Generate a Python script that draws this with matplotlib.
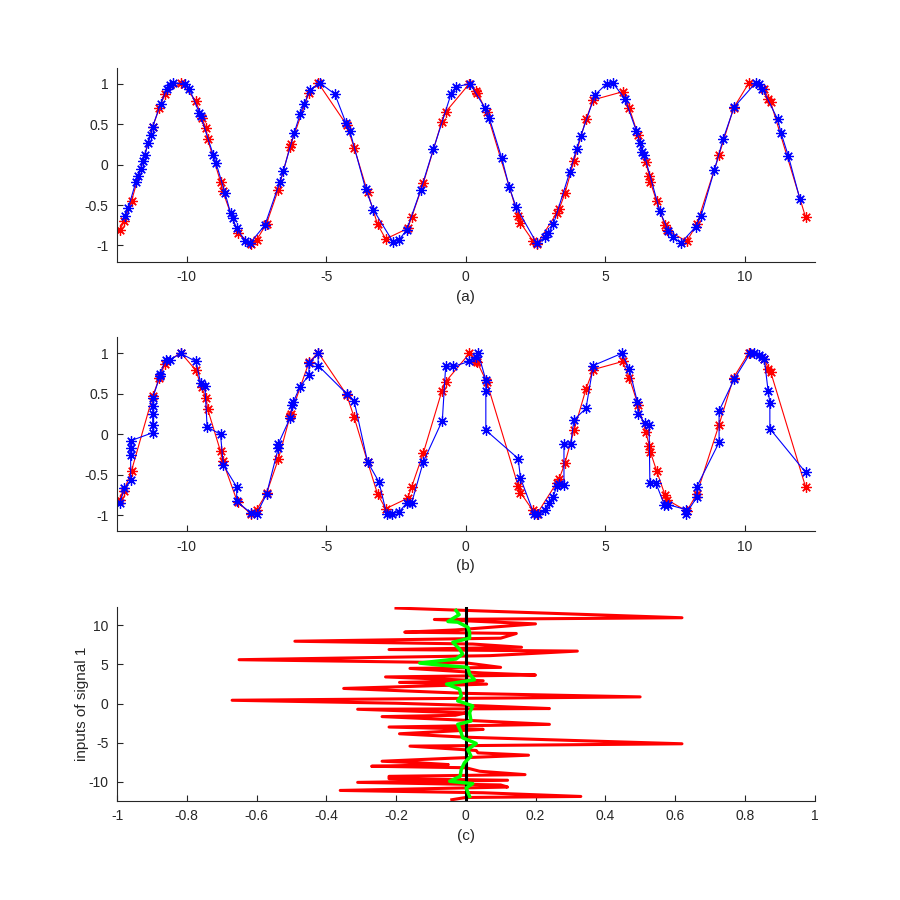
import matplotlib
matplotlib.use("Agg")
import matplotlib.pyplot as plt

plt.rcParams['font.family'] = ['Liberation Sans', 'DejaVu Sans']
plt.rcParams['axes.unicode_minus'] = False

# ---------------- data ----------------
# target signal samples (red), shared by panels (a) and (b)
red_x = [-12.39, -12.25, -11.98, -11.22, -10.98, -10.78, -10.22, -9.67, -9.47, -9.31,
         -9.25, -8.79, -8.71, -8.18, -7.71, -7.49, -7.14, -6.72, -6.30, -6.27,
         -5.62, -5.29, -4.27, -4.00, -3.52, -3.16, -2.87, -2.08, -1.94, -1.52,
         -0.86, -0.72, 0.13, 0.37, 0.41, 0.75, 1.88, 1.96, 2.40, 2.56,
         3.26, 3.35, 3.56, 3.88, 4.31, 4.57, 5.62, 5.86, 6.18, 6.45,
         6.58, 6.62, 6.84, 7.14, 7.22, 7.92, 8.28, 9.08, 9.60, 10.15,
         10.70, 10.85, 10.93, 12.18]
red_y = [-0.81, -0.70, -0.45, 0.47, 0.70, 0.87, 1.01, 0.79, 0.58, 0.45,
         0.31, -0.21, -0.33, -0.84, -0.98, -0.93, -0.73, -0.31, 0.22, 0.25,
         0.89, 1.01, 0.49, 0.21, -0.34, -0.74, -0.92, -0.79, -0.65, -0.23,
         0.53, 0.65, 1.00, 0.91, 0.89, 0.65, -0.64, -0.72, -0.94, -0.98,
         -0.60, -0.55, -0.35, 0.05, 0.56, 0.80, 0.90, 0.70, 0.36, 0.03,
         -0.14, -0.22, -0.45, -0.75, -0.81, -0.95, -0.74, 0.12, 0.70, 1.01,
         0.93, 0.81, 0.77, -0.65]

# panel (a) model output (blue)
blue_a_x = [-12.21, -12.10, -11.82, -11.74, -11.65, -11.58, -11.50, -11.38, -11.29, -11.22,
            -10.94, -10.72, -10.60, -10.48, -10.06, -9.91, -9.55, -9.50, -9.05, -8.95,
            -8.63, -8.43, -8.36, -8.21, -7.91, -7.73, -7.20, -6.66, -6.54, -6.15,
            -5.94, -5.79, -5.58, -5.23, -4.69, -4.30, -4.15, -3.59, -3.31, -2.60,
            -2.39, -2.12, -1.61, -1.16, -0.53, -0.36, 0.15, 0.69, 0.84, 1.29,
            1.56, 1.80, 2.54, 2.84, 2.96, 3.14, 3.73, 3.97, 4.12, 4.63,
            5.05, 5.27, 5.71, 6.12, 6.24, 6.33, 6.40, 6.96, 7.26, 7.44,
            7.71, 8.24, 8.43, 8.91, 9.23, 9.62, 10.39, 10.51, 10.63, 11.18,
            11.30, 11.56, 11.98]
blue_a_y = [-0.64, -0.54, -0.21, -0.14, -0.06, 0.04, 0.12, 0.27, 0.37, 0.47,
            0.75, 0.93, 0.98, 1.01, 1.00, 0.94, 0.64, 0.60, 0.12, 0.02,
            -0.35, -0.60, -0.66, -0.79, -0.94, -0.97, -0.75, -0.21, -0.08, 0.39,
            0.62, 0.75, 0.92, 1.01, 0.87, 0.52, 0.41, -0.30, -0.56, -0.96,
            -0.93, -0.81, -0.31, 0.19, 0.87, 0.96, 1.00, 0.70, 0.58, 0.08,
            -0.28, -0.52, -0.97, -0.90, -0.85, -0.74, -0.09, 0.19, 0.35, 0.86,
            1.00, 1.01, 0.81, 0.41, 0.27, 0.16, 0.12, -0.58, -0.82, -0.90,
            -0.97, -0.77, -0.64, -0.07, 0.32, 0.71, 1.01, 0.99, 0.94, 0.56,
            0.39, 0.11, -0.43]

# panel (b) model output (blue)
blue_b_x = [-12.39, -12.25, -12.01, -12.01, -12.01, -12.01, -11.22, -11.22, -11.22, -11.22,
            -11.22, -10.96, -10.96, -10.75, -10.60, -10.22, -9.67, -9.50, -9.35, -9.27,
            -8.79, -8.69, -8.21, -8.21, -7.71, -7.49, -7.14, -6.72, -6.72, -6.30,
            -6.22, -6.18, -5.94, -5.62, -5.62, -5.29, -5.29, -4.27, -4.00, -3.52,
            -3.11, -2.84, -2.66, -2.39, -2.12, -1.94, -1.52, -0.84, -0.72, -0.45,
            0.13, 0.37, 0.45, 0.72, 0.72, 0.72, 1.88, 1.96, 2.44, 2.60,
            2.84, 2.99, 3.14, 3.26, 3.35, 3.52, 3.52, 3.76, 3.88, 4.31,
            4.57, 5.59, 5.86, 6.15, 6.18, 6.42, 6.57, 6.60, 6.81, 7.12,
            7.26, 7.88, 7.88, 8.28, 8.28, 9.08, 9.08, 9.62, 10.19, 10.34,
            10.51, 10.63, 10.70, 10.84, 10.90, 10.90, 12.18]
blue_b_y = [-0.85, -0.67, -0.57, -0.25, -0.17, -0.08, 0.02, 0.12, 0.25, 0.35,
            0.45, 0.72, 0.75, 0.92, 0.92, 1.00, 0.90, 0.63, 0.60, 0.09,
            0.00, -0.38, -0.65, -0.83, -0.97, -0.98, -0.74, -0.17, -0.12, 0.20,
            0.36, 0.40, 0.59, 0.73, 0.88, 1.00, 0.85, 0.50, 0.41, -0.34,
            -0.59, -0.98, -0.98, -0.96, -0.85, -0.85, -0.34, 0.17, 0.84, 0.84,
            0.90, 0.95, 1.00, 0.67, 0.54, 0.05, -0.30, -0.54, -0.98, -0.98,
            -0.94, -0.85, -0.77, -0.64, -0.61, -0.63, -0.12, -0.12, 0.18, 0.32,
            0.85, 1.00, 0.81, 0.40, 0.25, 0.14, 0.12, -0.60, -0.60, -0.87,
            -0.87, -0.93, -0.99, -0.78, -0.65, -0.10, 0.29, 0.68, 1.00, 1.00,
            0.98, 0.96, 0.93, 0.53, 0.39, 0.07, -0.47]

# panel (c): error per input (red), smoothed error (green)
err_y = [12.2, 10.96, 10.74, 10.18, 9.4, 9.12, 8.95, 8.35, 7.96, 7.6,
         7.19, 6.9, 6.7, 6.12, 5.6, 5.2, 4.62, 4.49, 3.9, 3.64,
         3.4, 2.91, 2.7, 2.48, 1.93, 1.3, 0.85, 0.42, 0.04, -0.3,
         -0.64, -0.73, -1.2, -1.5, -1.67, -2.2, -2.66, -3.0, -3.3, -3.51,
         -3.86, -4.3, -5.14, -5.44, -6.0, -6.3, -6.6, -7.0, -7.37, -7.58,
         -7.8, -8.01, -8.2, -8.65, -9.08, -9.3, -9.59, -9.8, -10.07, -10.4,
         -10.67, -11.1, -11.4, -11.87, -12.0, -12.29]
err_x = [-0.20, 0.62, -0.09, 0.20, -0.03, -0.175, 0.145, 0.10, -0.49, 0.02,
         0.16, -0.22, 0.32, 0.07, -0.65, 0.0, 0.10, -0.16, 0.05, 0.20,
         -0.23, 0.05, -0.19, 0.06, -0.35, 0.0, 0.50, -0.67, -0.20, 0.05,
         0.24, -0.31, 0.0, -0.03, -0.24, 0.03, 0.24, -0.22, 0.05, -0.04,
         -0.19, 0.0, 0.62, -0.16, 0.03, 0.035, 0.18, -0.05, -0.24, -0.13,
         -0.05, -0.27, 0.0, 0.04, 0.17, -0.22, -0.22, 0.12, -0.31, 0.10,
         0.12, -0.36, 0.05, 0.33, 0.0, -0.04]

green_y = [11.9, 11.35, 10.48, 10.4, 9.75, 9.12, 8.35, 7.83, 6.97, 6.33,
           5.69, 5.17, 4.92, 4.62, 3.77, 3.04, 2.48, 1.84, 0.98, 0.34,
           -0.30, -1.16, -2.23, -2.66, -3.73, -4.37, -5.10, -5.87, -6.72, -7.58,
           -8.44, -9.29, -9.93, -10.23, -10.79, -11.86]
green_x = [-0.028, -0.019, -0.051, -0.023, 0.006, 0.011, 0.011, -0.037, -0.018, -0.009,
           -0.028, -0.132, -0.075, 0.006, 0.011, 0.025, -0.055, -0.018, -0.013, -0.023,
           0.020, 0.011, 0.015, -0.023, -0.013, -0.009, 0.030, 0.006, 0.015, -0.004,
           -0.013, -0.016, -0.046, 0.020, 0.001, 0.011]

zero_x = [0, 0]
zero_y = [-12.3, 12.2]

# ---------------- figure ----------------
fig = plt.figure(figsize=(9, 9), dpi=100)
positions = [[0.13, 0.7093, 0.775, 0.2157],
             [0.13, 0.4096, 0.775, 0.2157],
             [0.13, 0.11, 0.775, 0.2157]]
axc = '#262626'

def style(ax):
    for s in ['top', 'right']:
        ax.spines[s].set_visible(False)
    for s in ['left', 'bottom']:
        ax.spines[s].set_color(axc)
        ax.spines[s].set_linewidth(0.8)
    ax.tick_params(direction='in', length=4, width=0.8, colors=axc,
                   labelsize=10, pad=6)

ast = (8, 2, 0)
for k, (bx, by, lab) in enumerate([(blue_a_x, blue_a_y, '(a)'),
                                    (blue_b_x, blue_b_y, '(b)')]):
    ax = fig.add_axes(positions[k])
    ax.plot(red_x, red_y, color='red', lw=0.8, marker=ast, ms=7.5, mew=0.9)
    ax.plot(bx, by, color='blue', lw=0.8, marker=ast, ms=7.5, mew=0.9)
    ax.set_xlim(-12.5, 12.5)
    ax.set_ylim(-1.2, 1.2)
    ax.set_xticks([-10, -5, 0, 5, 10])
    ax.set_yticks([-1, -0.5, 0, 0.5, 1])
    ax.set_yticklabels(['-1', '-0.5', '0', '0.5', '1'])
    ax.set_xlabel(lab, fontsize=11, color=axc, labelpad=4)
    style(ax)

ax = fig.add_axes(positions[2])
ax.plot(err_x, err_y, color='red', lw=2.2)
ax.plot(zero_x, zero_y, color='black', lw=2.2)
ax.plot(green_x, green_y, color='#00ff00', lw=2.5)
ax.set_xlim(-1, 1)
ax.set_ylim(-12.45, 12.35)
ax.set_xticks([-1, -0.8, -0.6, -0.4, -0.2, 0, 0.2, 0.4, 0.6, 0.8, 1])
ax.set_xticklabels(['-1', '-0.8', '-0.6', '-0.4', '-0.2', '0', '0.2', '0.4', '0.6', '0.8', '1'])
ax.set_yticks([-10, -5, 0, 5, 10])
ax.set_xlabel('(c)', fontsize=11, color=axc, labelpad=4)
ax.set_ylabel('inputs of signal 1', fontsize=11, color=axc, labelpad=0)
style(ax)

fig.savefig('out.png', dpi=100)
